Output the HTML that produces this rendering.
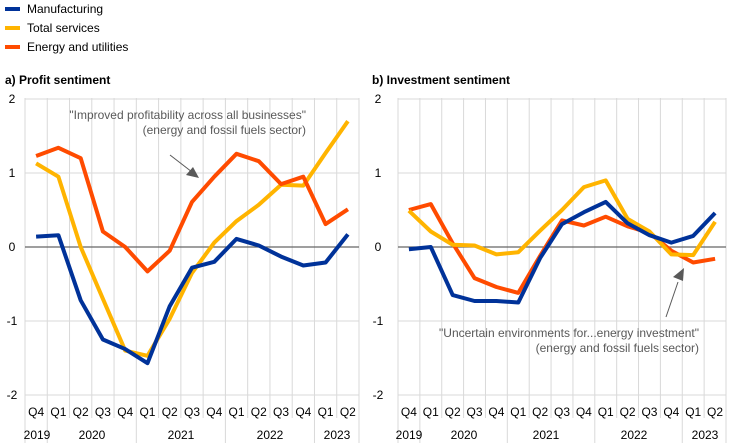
<!DOCTYPE html>
<html><head><meta charset="utf-8"><style>body{margin:0;background:#fff}svg{display:block;font-family:"Liberation Sans",Arial,sans-serif}</style></head><body>
<svg id="s" width="744" height="443" viewBox="0 0 744 443" xmlns="http://www.w3.org/2000/svg">
<g font-size="12" fill="#000">
<line x1="5" y1="9" x2="20" y2="9" stroke="#003299" stroke-width="4"/><text x="27" y="13">Manufacturing</text>
<line x1="5" y1="28" x2="20" y2="28" stroke="#ffb400" stroke-width="4"/><text x="27" y="32">Total services</text>
<line x1="5" y1="47" x2="20" y2="47" stroke="#ff4b00" stroke-width="4"/><text x="27" y="51">Energy and utilities</text>
<text x="5" y="84" font-weight="bold">a) Profit sentiment</text>
<text x="372" y="84" font-weight="bold">b) Investment sentiment</text>
</g>
<g id="g"></g>
</svg>
<script>
var NS="http://www.w3.org/2000/svg",g=document.getElementById("g");
function el(t,a,txt){var e=document.createElementNS(NS,t);for(var k in a)e.setAttribute(k,a[k]);if(txt)e.textContent=txt;g.appendChild(e);return e;}
var Q=["Q4","Q1","Q2","Q3","Q4","Q1","Q2","Q3","Q4","Q1","Q2","Q3","Q4","Q1","Q2"];
function panel(L,R,ylx,data,years){
 var w=(R-L)/15;function X(i){return L+w*(i+0.5)}function Y(v){return 247-74*v}
 [2,1,0,-1,-2].forEach(function(v){if(v)el("line",{x1:L,x2:R,y1:Y(v),y2:Y(v),stroke:"#d9d9d9"});el("text",{x:ylx,y:Y(v)+4,"font-size":12,"text-anchor":"middle"},String(v).replace("-","-"));});
 for(var i=0;i<=15;i++){var x=L+w*i;var yr=[1,5,9,13,15].indexOf(i)>=0||i==0;el("line",{x1:x,x2:x,y1:98,y2:yr?443:418,stroke:"#d9d9d9"});}
 el("line",{x1:L,x2:R,y1:247,y2:247,stroke:"#666","stroke-width":1.3});
 Q.forEach(function(q,i){el("text",{x:X(i),y:416,"font-size":12,"text-anchor":"middle"},q)});
 years.forEach(function(y){el("text",{x:y[1],y:439,"font-size":12,"text-anchor":"middle"},y[0])});
 data.forEach(function(d){el("polyline",{points:d[1].map(function(v,i){return X(i).toFixed(1)+","+Y(v).toFixed(1)}).join(" "),fill:"none",stroke:d[0],"stroke-width":4,"stroke-linejoin":"round"})});
}
panel(25,359,12,[
["#ffb400",[1.13,0.95,0.0,-0.7,-1.4,-1.47,-0.97,-0.35,0.06,0.35,0.57,0.84,0.83,1.27,1.7]],
["#ff4b00",[1.23,1.34,1.2,0.21,0.0,-0.33,-0.05,0.61,0.95,1.26,1.16,0.85,0.95,0.31,0.51]],
["#003299",[0.14,0.16,-0.72,-1.25,-1.38,-1.57,-0.8,-0.28,-0.2,0.11,0.02,-0.13,-0.25,-0.21,0.17]]
],[["2019",37],["2020",92],["2021",181],["2022",270],["2023",337]]);
panel(398,726,378,[
["#ff4b00",[0.5,0.58,0.05,-0.42,-0.54,-0.62,-0.12,0.36,0.29,0.41,0.28,0.19,-0.05,-0.21,-0.16]],
["#ffb400",[0.49,0.21,0.03,0.02,-0.1,-0.07,0.22,0.5,0.81,0.9,0.38,0.21,-0.1,-0.11,0.34]],
["#003299",[-0.03,0.0,-0.65,-0.73,-0.73,-0.75,-0.15,0.31,0.47,0.61,0.32,0.16,0.06,0.15,0.46]]
],[["2019",409],["2020",464],["2021",546],["2022",634],["2023",705]]);
var t={"font-size":12,fill:"#595959","text-anchor":"end"};
el("text",Object.assign({x:306,y:119},t),"\"Improved profitability across all businesses\"");
el("text",Object.assign({x:306,y:134},t),"(energy and fossil fuels sector)");
el("line",{x1:170,y1:155,x2:192,y2:172,stroke:"#595959","stroke-width":1});
el("polygon",{points:"199,178 186,175 193,167",fill:"#595959"});
el("text",Object.assign({x:699,y:337},t),"\"Uncertain environments for...energy investment\"");
el("text",Object.assign({x:699,y:352},t),"(energy and fossil fuels sector)");
el("line",{x1:666,y1:317,x2:678,y2:282,stroke:"#595959","stroke-width":1});
el("polygon",{points:"684,268 683,281 673,277",fill:"#595959"});
</script>
</body></html>
